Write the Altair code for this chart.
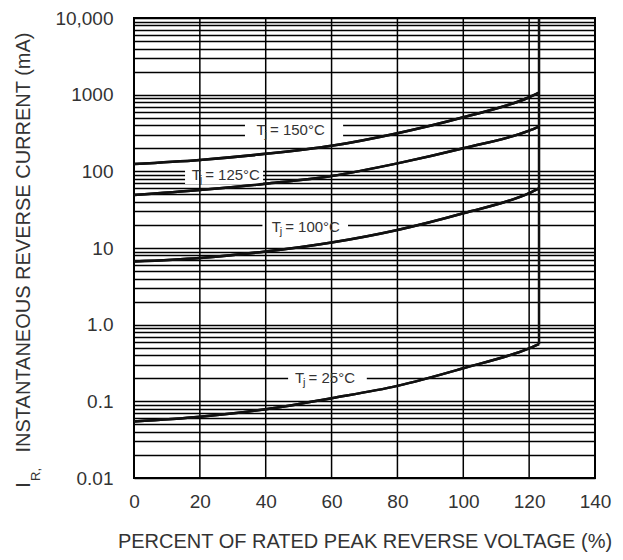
import altair as alt
import pandas as pd

# ---- data ----
x_pct = [0, 20, 40, 60, 80, 100, 120, 123]
ir_150 = [125, 141, 169, 215, 314, 507, 925, 1062]
ir_125 = [49, 57, 69, 87, 127, 200, 339, 383]
ir_100 = [6.65, 7.4, 9.0, 11.8, 17.2, 28.4, 52, 60]
ir_25 = [0.0546, 0.063, 0.079, 0.11, 0.159, 0.27, 0.49, 0.556]

limit_x = [123]
limit_lo = [0.556]
limit_hi = [10000]

label_text = ["= 150\u00b0C", "= 125\u00b0C", "= 100\u00b0C", "= 25\u00b0C"]
label_x = [37.2, 17.5, 41.8, 48.9]
label_y = [347, 89.7, 19, 0.2]
box_x0 = [33.7, 15.5, 39.0, 46.8]
box_x1 = [63.5, 39.2, 65.0, 70.7]
box_y0 = [272, 68.6, 14.8, 0.155]
box_y1 = [440, 117, 24.7, 0.258]

x_ticks = [0, 20, 40, 60, 80, 100, 120, 140]
y_decades = [0.01, 0.1, 1, 10, 100, 1000, 10000]
y_labels = ["0.01", "0.1", "1.0", "10", "100", "1000", "10,000"]

# ---- tables ----
rows = []
for name, vals in [("150", ir_150), ("125", ir_125), ("100", ir_100), ("25", ir_25)]:
    for xv, yv in zip(x_pct, vals):
        rows.append({"series": name, "x": xv, "y": yv})
curves = pd.DataFrame(rows)
limit = pd.DataFrame({"x": limit_x, "y": limit_lo, "y2": limit_hi})
labels = pd.DataFrame({"x": label_x, "y": label_y, "rest": label_text})
boxes = pd.DataFrame({"x": box_x0, "x2": box_x1, "y": box_y0, "y2": box_y1})
vgrid = pd.DataFrame({"x": x_ticks})

y_grid = []
for d in y_decades[:-1]:
    for k in range(1, 10):
        y_grid.append(round(k * d, 6))
y_grid.append(y_decades[-1])

expr = ""
for v, lab in zip(y_decades, y_labels):
    expr += f"abs(datum.value - {v}) < {v * 1e-3} ? '{lab}' : "
expr += "''"

FONT = "Liberation Sans"
TXT = "#333333"

xs = alt.Scale(domain=[0, 140], nice=False, zero=False)
ys = alt.Scale(type="log", domain=[0.01, 10000], nice=False)

xax = alt.Axis(
    values=x_ticks, grid=False, ticks=False, domain=False,
    labelFontSize=19, labelPadding=14, labelFlush=False, labelColor=TXT, labelFont=FONT,
    title="PERCENT OF RATED PEAK REVERSE VOLTAGE (%)", titleFontSize=20,
    titleFontWeight="normal", titleColor=TXT, titleFont=FONT, titlePadding=20)
yax = alt.Axis(
    values=y_grid, labelExpr=expr, labelOverlap=False, labelFlush=False,
    grid=True, gridColor="black", gridWidth=1.3, gridOpacity=1,
    ticks=False, domain=False, labelFontSize=19, labelPadding=21,
    labelColor=TXT, labelFont=FONT, title=None)


def X(field="x:Q"):
    return alt.X(field, scale=xs, axis=xax)


def Y(field="y:Q"):
    return alt.Y(field, scale=ys, axis=yax)


lines = alt.Chart(curves).mark_line(color="#111", strokeWidth=2.5, interpolate="monotone").encode(
    x=X(), y=Y(), detail="series:N",
)

box_layer = alt.Chart(boxes).mark_rect(color="white").encode(
    x=X(), x2="x2:Q", y=Y(), y2="y2:Q",
)

vrules = alt.Chart(vgrid).mark_rule(color="black", strokeWidth=1.5).encode(x=X())

limit_layer = alt.Chart(limit).mark_rule(color="#111", strokeWidth=2.5).encode(
    x=X(), y=Y(), y2="y2:Q",
)

t_layer = alt.Chart(labels).mark_text(align="left", baseline="middle", fontSize=15,
                                      font=FONT, color=TXT).encode(
    x=X(), y=Y(), text=alt.value("T"))
j_layer = alt.Chart(labels).mark_text(align="left", baseline="middle", fontSize=11, dx=8, dy=5,
                                      font=FONT, color=TXT).encode(
    x=X(), y=Y(), text=alt.value("j"))
rest_layer = alt.Chart(labels).mark_text(align="left", baseline="middle", fontSize=15, dx=13.5,
                                         font=FONT, color=TXT).encode(
    x=X(), y=Y(), text="rest:N")

ytitle_main = alt.Chart(pd.DataFrame({"t": ["INSTANTANEOUS REVERSE CURRENT (mA)"]})).mark_text(
    angle=270, align="center", baseline="middle", fontSize=20, font=FONT, color=TXT).encode(
    x=alt.value(-110), y=alt.value(224.5), text="t:N")
ytitle_i = alt.Chart(pd.DataFrame({"t": ["I"]})).mark_text(
    angle=270, align="center", baseline="middle", fontSize=20, font=FONT, color=TXT).encode(
    x=alt.value(-110), y=alt.value(467), text="t:N")
ytitle_r = alt.Chart(pd.DataFrame({"t": ["R,"]})).mark_text(
    angle=270, align="center", baseline="middle", fontSize=13, font=FONT, color=TXT).encode(
    x=alt.value(-98), y=alt.value(456.5), text="t:N")

chart = alt.layer(
    lines, box_layer, vrules, limit_layer, lines,
    t_layer, j_layer, rest_layer, ytitle_main, ytitle_i, ytitle_r,
).properties(
    width=461, height=460,
    padding={"left": 126, "top": 10, "right": 20, "bottom": 74},
    autosize=alt.AutoSizeParams(type="none"),
    background="white",
).configure_view(stroke="black", strokeWidth=2)

chart.save("out.html", embed_options={"renderer": "svg", "actions": False})
